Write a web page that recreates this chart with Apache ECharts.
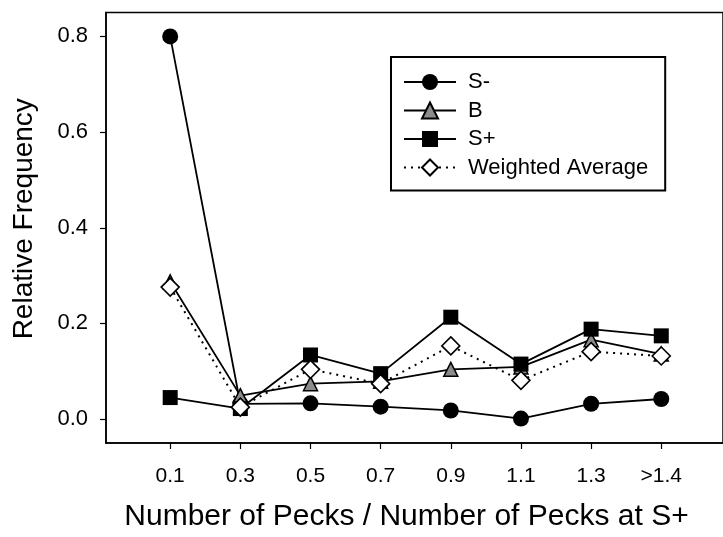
<!DOCTYPE html>
<html>
<head>
<meta charset="utf-8">
<script src="https://cdn.jsdelivr.net/npm/echarts@6/dist/echarts.min.js"></script>
<style>html,body{margin:0;padding:0;background:#fff;}#c{width:723px;height:537px;}</style>
</head>
<body>
<div id="c"></div>
<script>
const categories = ['0.1', '0.3', '0.5', '0.7', '0.9', '1.1', '1.3', '>1.4'];
const sMinus = [0.800, 0.032, 0.033, 0.026, 0.018, 0.001, 0.032, 0.042];
const bVals  = [0.287, 0.049, 0.074, 0.079, 0.104, 0.109, 0.166, 0.136];
const sPlus  = [0.045, 0.022, 0.134, 0.095, 0.213, 0.115, 0.188, 0.174];
const wAvg   = [0.276, 0.025, 0.104, 0.074, 0.153, 0.081, 0.141, 0.132];
const yTicks = [0, 0.2, 0.4, 0.6, 0.8];
const xIdx = categories.map((c, i) => i);

const FONT = "'Liberation Sans', Arial, sans-serif";
const toPairs = arr => arr.map((v, i) => [i, v]);

const chart = echarts.init(document.getElementById('c'), null, {renderer: 'canvas'});
const lineBase = {type: 'line', symbolKeepAspect: true, animation: false};
chart.setOption({
  backgroundColor: '#fff',
  animation: false,
  textStyle: {fontFamily: FONT, color: '#000'},
  grid: {left: 106, top: 12.5, width: 620, height: 431, show: true, borderColor: '#000', borderWidth: 1.5, backgroundColor: 'transparent'},
  legend: {
    orient: 'vertical', left: 391, top: 57,
    padding: [14, 17, 12, 12],
    borderColor: '#000', borderWidth: 2,
    itemWidth: 52, itemHeight: 20, itemGap: 6.5,
    textStyle: {fontFamily: FONT, fontSize: 22, color: '#000', lineHeight: 20, padding: [0, 0, 0, 7]},
    data: ['S-', 'B', 'S+', 'Weighted Average']
  },
  xAxis: {
    type: 'value', min: -0.915, max: 7.88,
    name: 'Number of Pecks / Number of Pecks at S+',
    nameLocation: 'middle', nameGap: 59,
    nameTextStyle: {fontFamily: FONT, fontSize: 30, color: '#000', padding: [0, 16, 0, 0]},
    axisLine: {show: true, onZero: false, lineStyle: {color: '#000', width: 1.5}},
    axisTick: {show: true, length: 6, lineStyle: {color: '#000', width: 1.2}, customValues: xIdx},
    axisLabel: {customValues: xIdx, margin: 23, fontFamily: FONT, fontSize: 21, color: '#000',
      formatter: v => categories[Math.round(v)]},
    splitLine: {show: false}
  },
  yAxis: {
    type: 'value', min: -0.05, max: 0.85,
    name: 'Relative Frequency',
    nameLocation: 'middle', nameGap: 68,
    nameTextStyle: {fontFamily: FONT, fontSize: 28, color: '#000', padding: [0, 0, 0, 18]},
    axisLine: {show: true, onZero: false, lineStyle: {color: '#000', width: 1.5}},
    axisTick: {show: true, length: 6, lineStyle: {color: '#000', width: 1.2}, customValues: yTicks},
    axisLabel: {customValues: yTicks, margin: 18, fontFamily: FONT, fontSize: 22, color: '#000',
      formatter: v => v.toFixed(1)},
    splitLine: {show: false}
  },
  series: [
    Object.assign({}, lineBase, {
      name: 'S-', data: toPairs(sMinus), symbol: 'circle', symbolSize: 16,
      lineStyle: {color: '#000', width: 1.8}, itemStyle: {color: '#000', borderColor: '#000', borderWidth: 0}
    }),
    Object.assign({}, lineBase, {
      name: 'B', data: toPairs(bVals), symbol: 'triangle', symbolSize: 14,
      lineStyle: {color: '#000', width: 1.8}, itemStyle: {color: '#8c8c8c', borderColor: '#000', borderWidth: 1.5}
    }),
    Object.assign({}, lineBase, {
      name: 'S+', data: toPairs(sPlus), symbol: 'rect', symbolSize: 15,
      lineStyle: {color: '#000', width: 1.8}, itemStyle: {color: '#000', borderColor: '#000', borderWidth: 0}
    }),
    Object.assign({}, lineBase, {
      name: 'Weighted Average', data: toPairs(wAvg), symbol: 'diamond', symbolSize: 18,
      lineStyle: {color: '#000', width: 2, type: [2, 5]}, itemStyle: {color: '#fff', borderColor: '#000', borderWidth: 1.6}
    })
  ]
});
</script>
</body>
</html>
